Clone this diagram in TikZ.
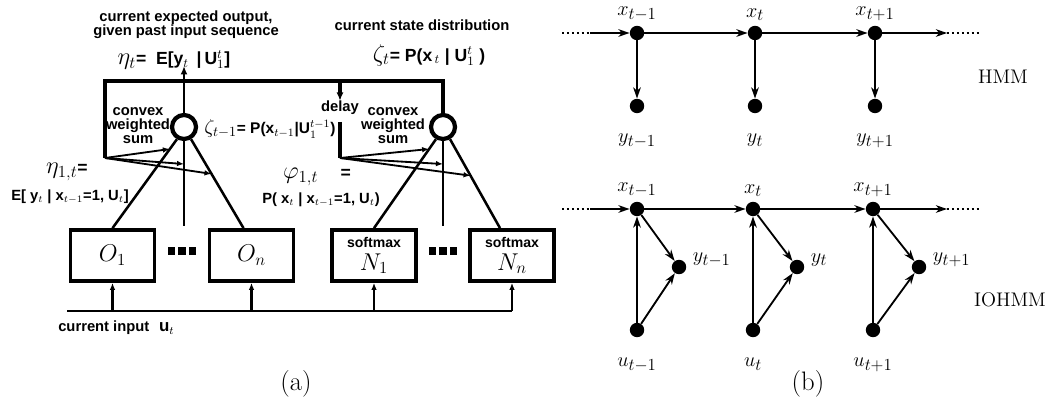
\documentclass[tikz,border=0pt]{standalone}
\usepackage{fontspec}
\setsansfont{Liberation Sans}
\usetikzlibrary{positioning,calc,arrows.meta}
\DeclareMathSizes{15}{15}{13}{10}

\begin{document}
\begin{tikzpicture}[x=0.025cm, y=-0.025cm,
		small/.style={font=\sffamily\bfseries\fontsize{10.5}{10}\selectfont, align=center, inner sep=0pt},
		eqn/.style={font=\sffamily\bfseries\fontsize{12.5}{13}\selectfont, inner sep=0pt},
		expert/.style={draw, line width=2.8pt, minimum width=2.1cm, minimum height=1.27cm, inner sep=0pt, align=center},
		summer/.style={circle, draw, line width=3pt, minimum size=0.6cm, inner sep=0pt},
		thickwire/.style={line width=3pt},
		wire/.style={line width=1.8pt},
		feed/.style={line width=1.3pt, -{Latex[length=5pt,width=4pt]}},
		rvdot/.style={circle, fill, inner sep=0pt, minimum size=0.36cm},
		link/.style={line width=1.3pt, -{Stealth[length=8pt,width=5.5pt]}},
		var/.style={font=\fontsize{15}{17}\selectfont},
	]
		\useasboundingbox (0,0) rectangle (1056,412);

		% (a): mixture of experts with state feedback
		\node[summer] (sumO) at (184,127) {};
		\node[summer] (sumN) at (443,127) {};
		\node[expert] (O1) at (112.5,255.5) {\fontsize{17}{17}\selectfont$O_1$};
		\node[expert] (On) at (251.5,255.5) {\fontsize{17}{17}\selectfont$O_n$};
		\node[expert] (N1) at (374,255.5) {{\sffamily\bfseries\fontsize{10}{10}\selectfont softmax}\\[4pt]{\fontsize{17}{17}\selectfont$N_1$}};
		\node[expert] (Nn) at (512,255.5) {{\sffamily\bfseries\fontsize{10}{10}\selectfont softmax}\\[4pt]{\fontsize{17}{17}\selectfont$N_n$}};
		\node[inner sep=0pt] (dotsO) at (182,251) {\rule{5pt}{5.5pt}\hspace{2.5pt}\rule{5pt}{5.5pt}\hspace{2.5pt}\rule{5pt}{5.5pt}};
		\node[inner sep=0pt] (dotsN) at (443,251) {\rule{5pt}{5.5pt}\hspace{2.5pt}\rule{5pt}{5.5pt}\hspace{2.5pt}\rule{5pt}{5.5pt}};
		\node[small] (delay) at (340,108) {delay};

		\coordinate (topL) at (105,81);
		\coordinate (loopL) at (105,158);
		\coordinate (loopN) at (340,158);
		\coordinate (delayOut) at (340,122);
		\coordinate (midO) at (184,226);
		\coordinate (midN) at (443,226);
		\coordinate (etaTip) at (184,66);
		\coordinate (inL) at (67,311);

		\draw[thickwire] (sumN.north) -- (sumN.north |- topL) -- (topL) -- (loopL);
		\draw[thickwire, -{Latex[length=6pt,width=5pt]}] (delay.north |- topL) -- (delay.north);
		\draw[thickwire] (delayOut) -- (loopN);
		\draw[wire, -{Latex[length=6pt,width=5pt]}] (sumO.north) -- (etaTip);

		\draw[wire] (O1.north) -- coordinate[pos=0.89] (wO1) (sumO.-120);
		\draw[wire] (sumO.south) -- coordinate[pos=0.27] (wOm) (midO);
		\draw[wire] (sumO.-60) -- coordinate[pos=0.39] (wOn) ($(On.north)+(-8,0)$);
		\draw[wire] (N1.north) -- coordinate[pos=0.89] (wN1) (sumN.-120);
		\draw[wire] (sumN.south) -- coordinate[pos=0.27] (wNm) (midN);
		\draw[wire] (sumN.-60) -- coordinate[pos=0.41] (wNn) ($(Nn.north)+(-12,0)$);

		\draw[feed] (loopL) -- (wO1);
		\draw[feed] (loopL) -- (wOm);
		\draw[feed] (loopL) -- (wOn);
		\draw[feed] (loopN) -- (wN1);
		\draw[feed] (loopN) -- (wNm);
		\draw[feed] (loopN) -- (wNn);

		\draw[wire] (inL) -- (Nn.south |- inL);
		\draw[wire, -{Latex[length=5pt,width=4pt]}] (O1.south |- inL) -- (O1.south);
		\draw[wire, -{Latex[length=5pt,width=4pt]}] (On.south |- inL) -- (On.south);
		\draw[wire, -{Latex[length=5pt,width=4pt]}] (N1.south |- inL) -- (N1.south);
		\draw[wire, -{Latex[length=5pt,width=4pt]}] (Nn.south |- inL) -- (Nn.south);

		\node[small] (outlbl) at (186,25) {current expected output,\\given past input sequence};
		\node[eqn] (eta) at (174,60) {{\LARGE$\eta_t$}= \ E[y$_t$ \,|\,U$_1^t$]};
		\node[small] (statelbl) at (422,25) {current state distribution};
		\node[eqn] (zeta) at (429,55) {{\LARGE$\zeta_t$}= P(x$_{\,t}$ | U$_1^t$ )};
		\node[eqn, font=\sffamily\bfseries\fontsize{11}{12}\selectfont] (zetaprev) at (270,129) {{\Large$\zeta_{t-1}$}= P(x$_{t-1}$|U$_1^{t-1}$)};
		\node[small] (cwsO) at (138,126) {convex\\weighted\\sum};
		\node[small] (cwsN) at (393,126) {convex\\weighted\\sum};
		\node[eqn] (etaone) at (67,172) {{\LARGE$\eta_{1,t}$}=};
		\node[small] (etaonedef) at (70,197) {E[ y$_t$ | x$_{t-1}$=1, U$_t$]};
		\node[eqn] (phione) at (317,177) {{\LARGE$\varphi_{1,t}$}\quad\ =};
		\node[small] (phionedef) at (321,200) {P( x$_t$ | x$_{t-1}$=1, U$_t$)};
		\node[small, anchor=west] (inlbl) at (58,328) {current input\hspace{7pt}{\large u$_t$}};
		\node[font=\fontsize{19}{22}\selectfont] (capa) at (296,384) {(a)};

		% (b): HMM and IOHMM
		\node[rvdot, label={[var, label distance=0pt]above:$x_{t-1}$}] (hx1) at (637,33) {};
		\node[rvdot, label={[var, label distance=0pt]above:$x_{t}$}] (hx2) at (755,33) {};
		\node[rvdot, label={[var, label distance=0pt]above:$x_{t+1}$}] (hx3) at (875,33) {};
		\node[rvdot, label={[var, label distance=11pt]below:$y_{t-1}$}] (hy1) at (637,106) {};
		\node[rvdot, label={[var, label distance=11pt]below:$y_{t}$}] (hy2) at (755,106) {};
		\node[rvdot, label={[var, label distance=11pt]below:$y_{t+1}$}] (hy3) at (875,106) {};
		\coordinate (hinA) at (562,33);
		\coordinate (hinB) at (590,33);
		\coordinate (houtA) at (947,33);
		\coordinate (houtB) at (980,33);
		\draw[line width=1.3pt, dash pattern=on 1.5pt off 2pt] (hinA) -- (hinB);
		\draw[link] (hinB) -- (hx1);
		\draw[link] (hx1) -- (hx2);
		\draw[link] (hx2) -- (hx3);
		\draw[link] (hx3) -- (houtA);
		\draw[line width=1.3pt, dash pattern=on 1.5pt off 2pt] (houtA) -- (houtB);
		\draw[link] (hx1) -- (hy1);
		\draw[link] (hx2) -- (hy2);
		\draw[link] (hx3) -- (hy3);
		\node[font=\fontsize{14}{16}\selectfont] (hmm) at (1003,77) {HMM};

		\node[rvdot, label={[var, label distance=0pt]above:$x_{t-1}$}] (ix1) at (637,209) {};
		\node[rvdot, label={[var, label distance=0pt]above:$x_{t}$}] (ix2) at (753,209) {};
		\node[rvdot, label={[var, label distance=0pt]above:$x_{t+1}$}] (ix3) at (873,209) {};
		\node[rvdot, label={[var, label distance=1pt, yshift=5pt]right:$y_{t-1}$}] (iy1) at (679,267) {};
		\node[rvdot, label={[var, label distance=1pt, yshift=5pt]right:$y_{t}$}] (iy2) at (797,267) {};
		\node[rvdot, label={[var, label distance=1pt, yshift=5pt]right:$y_{t+1}$}] (iy3) at (919,267) {};
		\node[rvdot, label={[var, label distance=11pt]below:$u_{t-1}$}] (iu1) at (637,330) {};
		\node[rvdot, label={[var, label distance=11pt]below:$u_{t}$}] (iu2) at (753,330) {};
		\node[rvdot, label={[var, label distance=11pt]below:$u_{t+1}$}] (iu3) at (873,330) {};
		\coordinate (iinA) at (562,209);
		\coordinate (iinB) at (590,209);
		\coordinate (ioutA) at (947,209);
		\coordinate (ioutB) at (980,209);
		\draw[line width=1.3pt, dash pattern=on 1.5pt off 2pt] (iinA) -- (iinB);
		\draw[link] (iinB) -- (ix1);
		\draw[link] (ix1) -- (ix2);
		\draw[link] (ix2) -- (ix3);
		\draw[link] (ix3) -- (ioutA);
		\draw[line width=1.3pt, dash pattern=on 1.5pt off 2pt] (ioutA) -- (ioutB);
		\draw[link] (iu1) -- (ix1);
		\draw[link] (iu2) -- (ix2);
		\draw[link] (iu3) -- (ix3);
		\draw[link] (ix1) -- (iy1);
		\draw[link] (ix2) -- (iy2);
		\draw[link] (ix3) -- (iy3);
		\draw[link] (iu1) -- (iy1);
		\draw[link] (iu2) -- (iy2);
		\draw[link] (iu3) -- (iy3);
		\node[font=\fontsize{14}{16}\selectfont] (iohmm) at (1010,300) {IOHMM};
		\node[font=\fontsize{19}{22}\selectfont] (capb) at (808,384) {(b)};
	\end{tikzpicture}
\end{document}
